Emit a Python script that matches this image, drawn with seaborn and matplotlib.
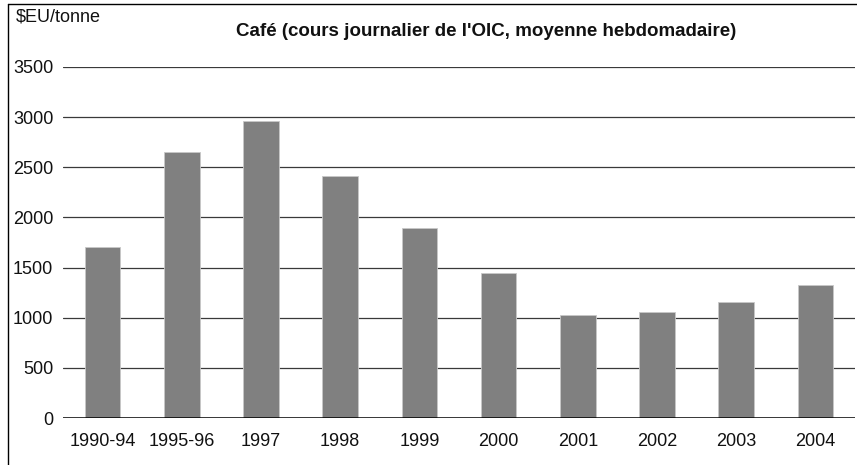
import matplotlib
matplotlib.use('Agg')
import matplotlib.pyplot as plt
import seaborn as sns
import pandas as pd
from matplotlib.lines import Line2D

# data
periods = ['1990-94', '1995-96', '1997', '1998', '1999',
           '2000', '2001', '2002', '2003', '2004']
prices = [1705, 2655, 2960, 2415, 1890, 1445, 1025, 1055, 1155, 1330]
yticks = [0, 500, 1000, 1500, 2000, 2500, 3000, 3500]

data = pd.DataFrame({'period': periods, 'price': prices})

sns.set_style('white')
plt.rcParams['font.family'] = ['Liberation Sans', 'DejaVu Sans']

fig = plt.figure(figsize=(8.57, 4.65), dpi=100)
ax = fig.add_axes([63 / 857, 1 - 418 / 465, (855 - 63) / 857, (418 - 67) / 465])

sns.barplot(data=data, x='period', y='price', color='#808080', saturation=1,
            width=0.45, edgecolor='#c8c8c8', linewidth=0.6, ax=ax, zorder=3)

ax.set_ylim(0, 3500)
ax.set_xlim(-0.5, len(periods) - 0.5)
ax.set_yticks(yticks)
ax.set_yticklabels([str(t) for t in yticks])
for t in yticks[1:]:
    ax.axhline(t, color='#3a3a3a', linewidth=0.9, zorder=1)
ax.axhline(0, color='black', linewidth=1.1, zorder=4)

for s in ax.spines.values():
    s.set_visible(False)
ax.tick_params(axis='y', length=0, pad=7, labelsize=13, labelcolor='#111111')
ax.tick_params(axis='x', length=0, pad=11, labelsize=13, labelcolor='#111111')
ax.set_xlabel('')
ax.set_ylabel('')

fig.text(16 / 857, 1 - 17 / 465, r'\$EU/tonne', fontsize=13, va='center', ha='left',
         color='#111111')
fig.text(486 / 857, 1 - 31 / 465, "Café (cours journalier de l'OIC, moyenne hebdomadaire)",
         fontsize=13.5, fontweight='bold', ha='center', va='center', color='#111111')

# partial outer frame
fig.add_artist(Line2D([8 / 857, 8 / 857], [0, 1 - 4 / 465], color='black', linewidth=1,
                      transform=fig.transFigure))
fig.add_artist(Line2D([8 / 857, 1], [1 - 4 / 465, 1 - 4 / 465], color='black', linewidth=1,
                      transform=fig.transFigure))

fig.savefig('out.png', dpi=100)
